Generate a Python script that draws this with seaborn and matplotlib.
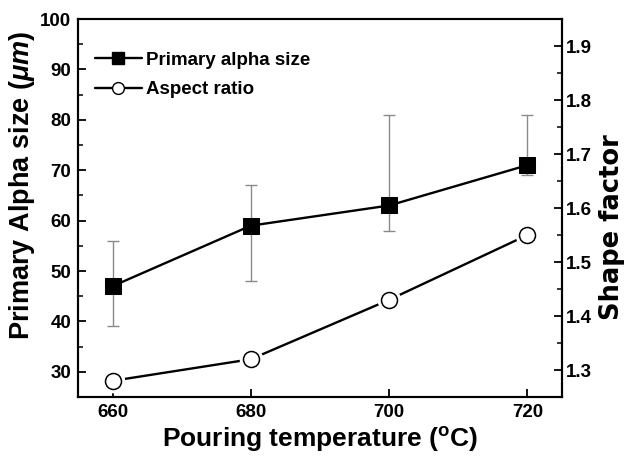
import numpy as np
import pandas as pd
import seaborn as sns
import matplotlib
matplotlib.use("Agg")
import matplotlib.pyplot as plt
from matplotlib.lines import Line2D
from matplotlib.ticker import MultipleLocator

# ---- data ----
temperature = [660, 680, 700, 720]
alpha_size = [47, 59, 63, 71]
alpha_err_low = [39, 48, 58, 69]
alpha_err_high = [56, 67, 81, 81]
shape_factor = [1.28, 1.32, 1.43, 1.55]

x_ticks = [660, 680, 700, 720]
left_ticks = [30, 40, 50, 60, 70, 80, 90, 100]
right_ticks = [1.3, 1.4, 1.5, 1.6, 1.7, 1.8, 1.9]

sns.set_theme(style="white")
plt.rcParams["font.family"] = ["Liberation Sans", "DejaVu Sans"]
plt.rcParams["font.weight"] = "bold"
plt.rcParams["text.color"] = "black"
plt.rcParams["axes.labelcolor"] = "black"
plt.rcParams["mathtext.fontset"] = "custom"
plt.rcParams["mathtext.rm"] = "Liberation Sans:bold"
plt.rcParams["mathtext.bf"] = "Liberation Sans:bold"
plt.rcParams["mathtext.it"] = "Liberation Sans:italic"

df = pd.DataFrame({"T": temperature, "size": alpha_size, "shape": shape_factor,
                   "lo": alpha_err_low, "hi": alpha_err_high})

fig = plt.figure(figsize=(6.24, 4.59), dpi=100)
ax = fig.add_axes([0.125, 0.135, 0.7756, 0.8236])
ax2 = ax.twinx()

# error bars
yerr = np.array([df["size"] - df["lo"], df["hi"] - df["size"]])
ax.errorbar(df["T"], df["size"], yerr=yerr, fmt="none", ecolor="#8a8a8a",
            elinewidth=1.0, capsize=4.5, capthick=1.0, zorder=1)

# primary alpha size
sns.lineplot(data=df, x="T", y="size", ax=ax, color="black", linewidth=1.7,
             marker="s", markersize=11, markerfacecolor="black",
             markeredgecolor="black", zorder=3)

# shape factor (aspect ratio)
sns.lineplot(data=df, x="T", y="shape", ax=ax2, color="black", linewidth=1.7, zorder=2)
ax2.plot(df["T"], df["shape"], linestyle="none", marker="o", markersize=16,
         markerfacecolor="white", markeredgecolor="white", zorder=3)
ax2.plot(df["T"], df["shape"], linestyle="none", marker="o", markersize=11.5,
         markerfacecolor="white", markeredgecolor="black", markeredgewidth=1.1, zorder=4)

ax.set_xlim(655, 725)
ax.set_ylim(25, 100)
ax2.set_ylim(1.25, 1.95)

ax.set_xticks(x_ticks)
ax.set_yticks(left_ticks)
ax.yaxis.set_minor_locator(MultipleLocator(5))
ax2.set_yticks(right_ticks)
ax2.yaxis.set_minor_locator(MultipleLocator(0.05))

for a in (ax, ax2):
    a.tick_params(which="major", direction="in", length=6, width=1.3,
                  labelsize=13.5, colors="black", pad=5)
    a.tick_params(which="minor", direction="in", length=3.5, width=1.3)
    for s in a.spines.values():
        s.set_linewidth(1.5)
        s.set_color("black")
ax.tick_params(axis="y", which="both", left=True, right=False)
ax.tick_params(axis="x", which="major", bottom=True)
ax2.tick_params(axis="y", which="both", right=True, left=False)
ax2.tick_params(axis="y", which="major", pad=3)
for lbl in ax.get_xticklabels() + ax.get_yticklabels() + ax2.get_yticklabels():
    lbl.set_fontweight("bold")

ax.set_xlabel(r"Pouring temperature ($^{\mathregular{o}}$C)", fontsize=19,
              fontweight="bold", color="black")
ax.set_ylabel(r"Primary Alpha size ($\mathit{\mu m}$)", fontsize=19.5,
              fontweight="bold", color="black")
ax2.set_ylabel("Shape factor", fontsize=18.5, fontweight="bold",
               family="DejaVu Sans", color="black")
ax.xaxis.set_label_coords(0.5, -0.075)
ax.yaxis.set_label_coords(-0.085, 0.56)
ax2.yaxis.set_label_coords(1.077, 0.45)

handles = [
    Line2D([], [], color="black", linewidth=1.7, marker="s", markersize=8.5,
           markerfacecolor="black"),
    Line2D([], [], color="black", linewidth=1.7, marker="o", markersize=8.5,
           markerfacecolor="white", markeredgecolor="black"),
]
leg = ax.legend(handles, ["Primary alpha size", "Aspect ratio"], loc="upper left",
                frameon=False, fontsize=13.5, handlelength=2.5, handletextpad=0.25,
                labelspacing=0.66, bbox_to_anchor=(0.0, 0.958))
for t in leg.get_texts():
    t.set_fontweight("bold")
    t.set_color("black")

fig.savefig("out.png", dpi=100)
